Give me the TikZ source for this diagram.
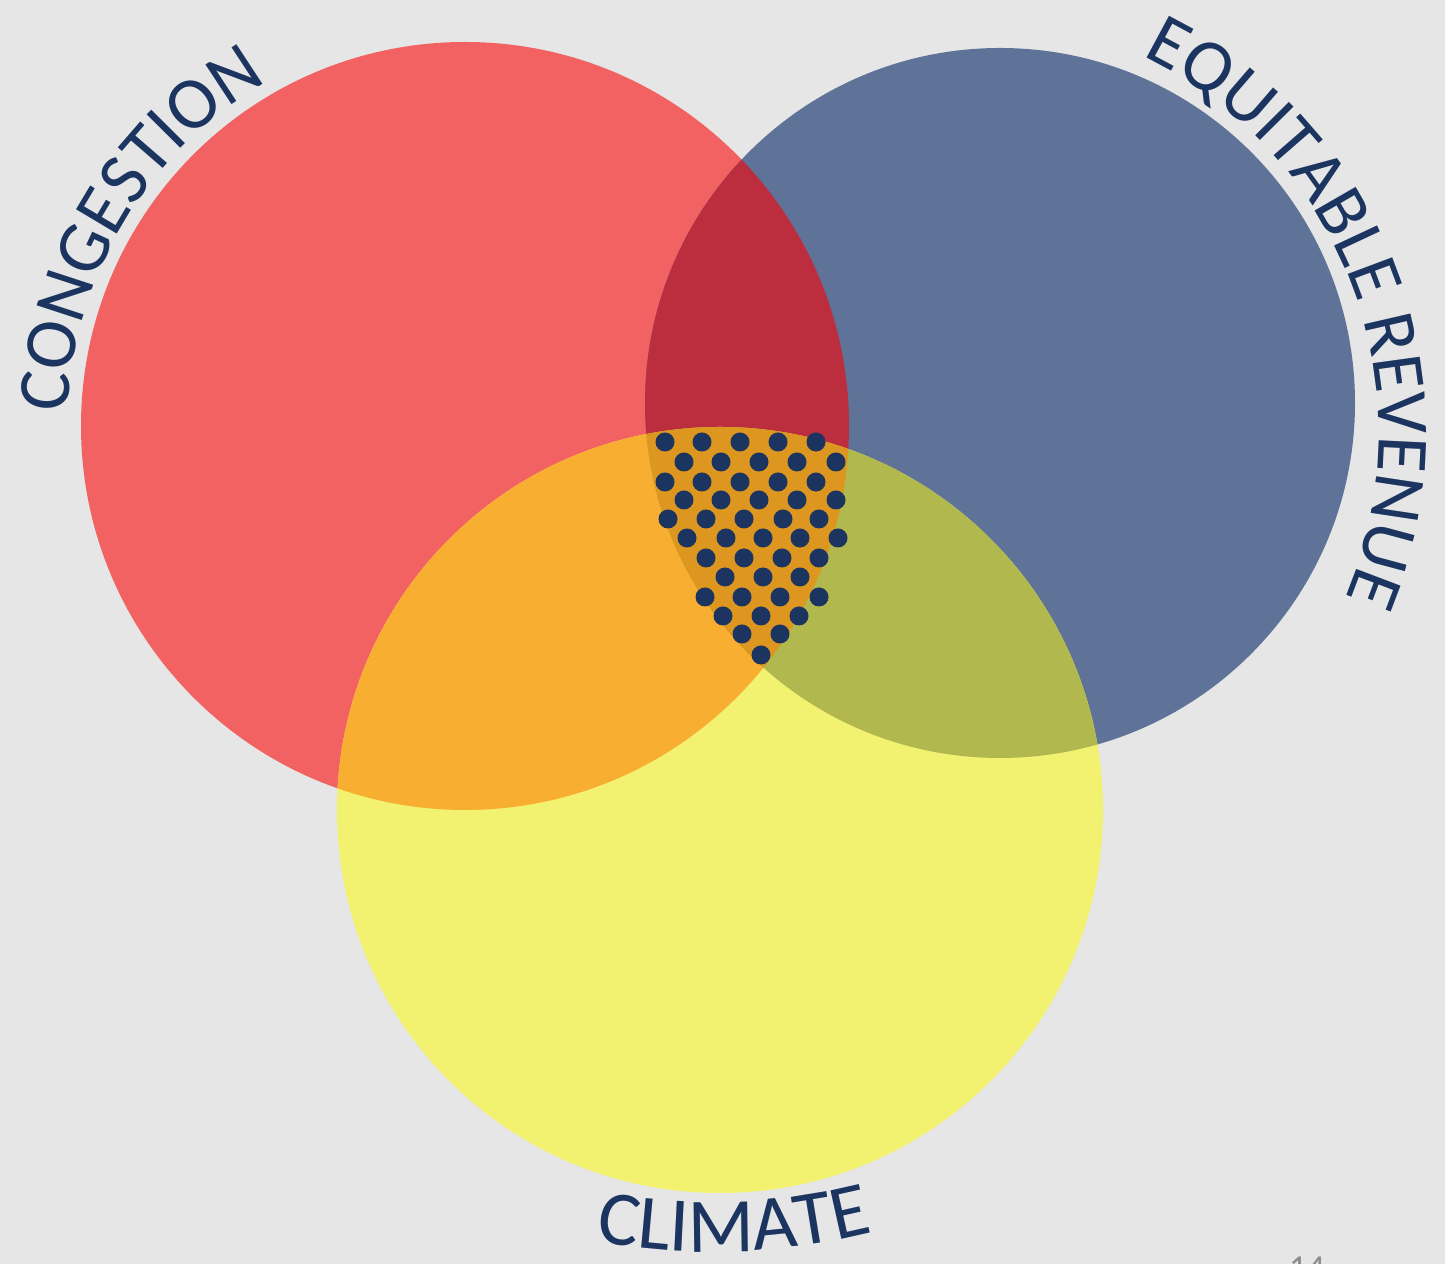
\documentclass[tikz,border=0pt]{standalone}
\usepackage{fontspec}
\newfontfamily\carl{Carlito}
\usetikzlibrary{decorations.text}
\definecolor{bg}{HTML}{E6E6E6}
\definecolor{cred}{HTML}{F26262}
\definecolor{cblue}{HTML}{5F7399}
\definecolor{cyel}{HTML}{F2F170}
\definecolor{crb}{HTML}{BC2D3E}
\definecolor{cry}{HTML}{F8AE30}
\definecolor{cby}{HTML}{B0B84E}
\definecolor{crby}{HTML}{DD961F}
\definecolor{navy}{HTML}{1B3560}
\definecolor{shade}{HTML}{8D9AB3}
\definecolor{pgnum}{HTML}{8C8C8C}
\newcommand\lblfont{\carl\fontsize{42}{42}\selectfont}
\newcommand\climfont{\carl\fontsize{44}{44}\selectfont}
\tikzset{
  dot/.style={fill=navy}
}
\begin{document}
\begin{tikzpicture}[x=0.02cm,y=0.02cm]
\useasboundingbox (0,0) rectangle (1445,1264);
\fill[bg] (0,0) rectangle (1445,1264);
\coordinate (R) at (465,838);
\coordinate (B) at (1000,861);
\coordinate (Y) at (720,454);
% base circles
\fill[cred] (R) circle[radius=384];
\fill[cblue] (B) circle[radius=355];
\fill[cyel] (Y) circle[radius=383];
% pairwise overlaps
\begin{scope}
  \clip (R) circle[radius=384];
  \fill[crb] (B) circle[radius=355];
  \fill[cry] (Y) circle[radius=383];
\end{scope}
\begin{scope}
  \clip (B) circle[radius=355];
  \fill[cby] (Y) circle[radius=383];
\end{scope}
% triple overlap
\begin{scope}
  \clip (R) circle[radius=384];
  \clip (B) circle[radius=355];
  \fill[crby] (Y) circle[radius=383];
\end{scope}
% dots
\foreach \x in {665,702,740,778,816} \fill[dot] (\x,822) circle[radius=9.5];
\foreach \x in {684,721,759,797,836} \fill[dot] (\x,802) circle[radius=9.5];
\foreach \x in {665,702,740,778,816} \fill[dot] (\x,782) circle[radius=9.5];
\foreach \x in {684,721,759,797,836} \fill[dot] (\x,764) circle[radius=9.5];
\foreach \x in {668,706,744,783,819} \fill[dot] (\x,745) circle[radius=9.5];
\foreach \x in {687,726,763,800,838} \fill[dot] (\x,726) circle[radius=9.5];
\foreach \x in {706,744,782,819} \fill[dot] (\x,706) circle[radius=9.5];
\foreach \x in {725,763,800} \fill[dot] (\x,687) circle[radius=9.5];
\foreach \x in {705,742,780,819} \fill[dot] (\x,667) circle[radius=9.5];
\foreach \x in {723,761,799} \fill[dot] (\x,648) circle[radius=9.5];
\foreach \x in {742,780} \fill[dot] (\x,630) circle[radius=9.5];
\fill[dot] (761,609) circle[radius=9.5];
% labels: soft shadow then text
\coordinate (cR) at (465,838);
\coordinate (cB) at (960,831);
\coordinate (cY) at (712,662);
\foreach \dx/\col/\op in {2.5/shade/0.4, 0/navy/1} {
  \begin{scope}[shift={(\dx,-\dx)}, opacity=\op]
  \path[decorate, decoration={text along path, text={|\lblfont|CONGESTION}, text align=center, text color=\col}]
    (cR) ++(178:397) arc[start angle=178, end angle=120, radius=397];
  \path[decorate, decoration={text along path, text={|\lblfont|EQUITABLE REVENUE}, text align=center, text color=\col}]
    (cB) ++(66:419) arc[start angle=66, end angle=-25, radius=419];
  \path[decorate, decoration={text along path, text={|\climfont|CLIMATE}, text align=center, text color=\col}]
    (cY) ++(250:650) arc[start angle=250, end angle=294, radius=650];
  \end{scope}
}
\node[anchor=base, text=pgnum, font=\carl\fontsize{20}{20}\selectfont, inner sep=0pt] (pg) at (1307,-16) {14};
\end{tikzpicture}
\end{document}
